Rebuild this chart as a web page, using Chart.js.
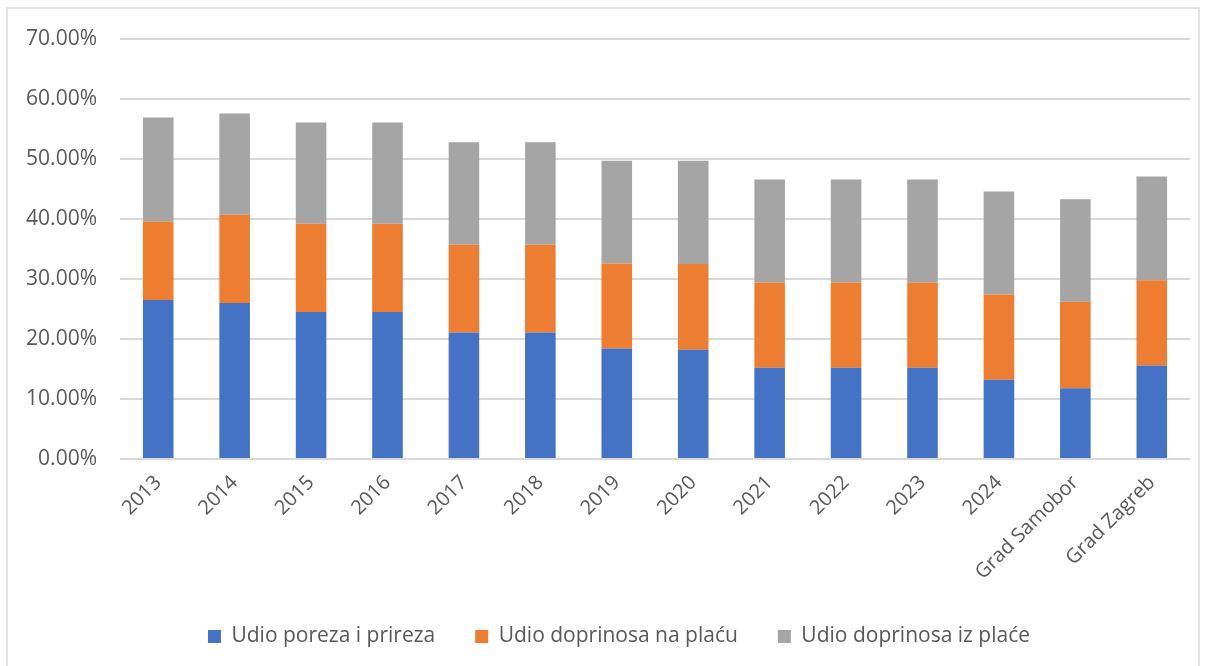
<!DOCTYPE html>
<html>
<head>
<meta charset="utf-8">
<script src="https://cdn.jsdelivr.net/npm/chart.js@4"></script>
<style>
  html, body { margin: 0; padding: 0; background: #fff; }
  #frame {
    position: absolute; left: 6px; top: 7px; width: 1194px; height: 680px;
    border: 2px solid #e3e3e3; box-sizing: border-box;
  }
  #wrap { position: absolute; left: 0; top: 0; width: 1208px; height: 666px; }
</style>
</head>
<body>
<div id="frame"></div>
<div id="wrap"><canvas id="chart"></canvas></div>
<script>
// Share of tax and contributions in labour cost, in percent.
const categories = ['2013', '2014', '2015', '2016', '2017', '2018', '2019', '2020',
  '2021', '2022', '2023', '2024', 'Grad Samobor', 'Grad Zagreb'];
const porezPrirez = [26.5, 26.0, 24.5, 24.5, 21.1, 21.1, 18.4, 18.2, 15.2, 15.2, 15.2, 13.2, 11.8, 15.6];
const doprinosiNaPlacu = [13.1, 14.7, 14.7, 14.7, 14.6, 14.6, 14.2, 14.3, 14.2, 14.2, 14.2, 14.2, 14.4, 14.2];
const doprinosiIzPlace = [17.3, 16.9, 16.9, 16.9, 17.1, 17.1, 17.1, 17.2, 17.2, 17.2, 17.2, 17.2, 17.1, 17.3];
const seriesNames = ['Udio poreza i prireza', 'Udio doprinosa na plaću', 'Udio doprinosa iz plaće'];

const textColor = '#595959';
const xFont = { family: "'Open Sans', sans-serif", size: 20 };
const yFont = { family: "'Open Sans', sans-serif", size: 21 };
const legendFont = { family: "'Open Sans', sans-serif", size: 21 };

function makeSet(label, data, color) {
  return {
    label,
    data,
    backgroundColor: color,
    borderWidth: 0,
    barPercentage: 0.5,
    categoryPercentage: 0.8,
  };
}

// The legend sits a bit right of centre and closer to the axis labels
// than Chart.js would put it, so nudge its box once layout is done.
const legendNudge = {
  id: 'legendNudge',
  afterLayout(chart) {
    const lg = chart.legend;
    lg.left += 12;
    lg.right += 12;
    lg.top -= 9;
    lg.bottom -= 9;
  },
};

new Chart(document.getElementById('chart'), {
  type: 'bar',
  data: {
    labels: categories,
    datasets: [
      makeSet(seriesNames[0], porezPrirez, '#4472C4'),
      makeSet(seriesNames[1], doprinosiNaPlacu, '#ED7D31'),
      makeSet(seriesNames[2], doprinosiIzPlace, '#A5A5A5'),
    ],
  },
  plugins: [legendNudge],
  options: {
    responsive: true,
    maintainAspectRatio: false,
    animation: false,
    layout: { padding: { top: 39, right: 18, left: 24, bottom: 0 } },
    plugins: {
      tooltip: { enabled: false },
      legend: {
        position: 'bottom',
        maxHeight: 72,
        labels: {
          color: textColor,
          font: legendFont,
          boxWidth: 13,
          boxHeight: 13,
          padding: 40,
        },
      },
    },
    scales: {
      x: {
        stacked: true,
        grid: { display: false },
        border: { display: false },
        ticks: {
          color: textColor,
          font: xFont,
          minRotation: 45,
          maxRotation: 45,
          padding: 4,
          autoSkip: false,
        },
        afterFit: (scale) => { scale.height = 136; },
      },
      y: {
        stacked: true,
        min: 0,
        max: 70,
        grid: { color: '#d9d9d9', lineWidth: 2, drawTicks: false },
        border: { display: false },
        ticks: {
          stepSize: 10,
          color: textColor,
          font: yFont,
          padding: 23,
          callback: (v) => v.toFixed(2) + '%',
        },
        afterFit: (scale) => { scale.width = 96; },
      },
    },
  },
});
</script>
</body>
</html>
